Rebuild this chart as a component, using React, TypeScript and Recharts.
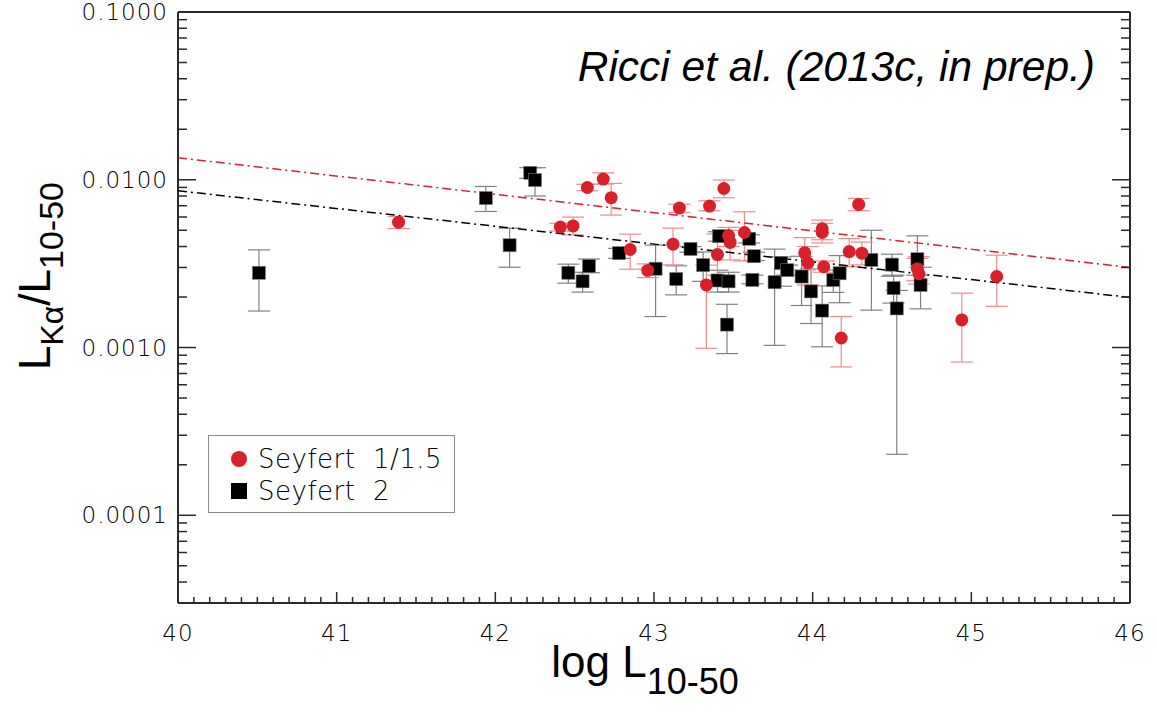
import React from "react";
import {
  ComposedChart,
  Scatter,
  XAxis,
  YAxis,
  ErrorBar,
  Legend,
} from "recharts";

// [log L, ratio, lower bound, upper bound]
const seyfert1: [number, number, number, number][] = [
  [41.39, 0.00559, 0.00512, 0.00605],
  [42.41, 0.00523, 0.00495, 0.0055],
  [42.49, 0.00531, 0.00469, 0.00599],
  [42.58, 0.00899, 0.0086, 0.0094],
  [42.68, 0.0101, 0.00943, 0.011],
  [42.73, 0.00782, 0.00616, 0.00951],
  [42.85, 0.00384, 0.00293, 0.00474],
  [42.96, 0.00288, 0.00261, 0.00315],
  [43.12, 0.00413, 0.00311, 0.00515],
  [43.16, 0.00678, 0.0064, 0.00715],
  [43.33, 0.00236, 0.00099, 0.0031],
  [43.35, 0.00697, 0.00654, 0.00749],
  [43.4, 0.00358, 0.0027, 0.00476],
  [43.44, 0.00887, 0.00781, 0.00996],
  [43.47, 0.00465, 0.004, 0.0052],
  [43.48, 0.00423, 0.00333, 0.005],
  [43.57, 0.00485, 0.00328, 0.00644],
  [43.95, 0.00367, 0.0029, 0.00452],
  [43.97, 0.00319, 0.00236, 0.004],
  [44.06, 0.0051, 0.00439, 0.00575],
  [44.06, 0.00485, 0.0042, 0.0055],
  [44.07, 0.00303, 0.00281, 0.00328],
  [44.18, 0.00114, 0.000766, 0.00153],
  [44.23, 0.00373, 0.00303, 0.00446],
  [44.29, 0.00713, 0.00654, 0.00774],
  [44.31, 0.00365, 0.00311, 0.00425],
  [44.66, 0.00295, 0.0025, 0.0034],
  [44.67, 0.00275, 0.00239, 0.00348],
  [44.94, 0.00146, 0.00082, 0.00211],
  [45.16, 0.00265, 0.00176, 0.00355],
];

const seyfert2: [number, number, number, number][] = [
  [40.51, 0.00279, 0.00165, 0.00382],
  [41.94, 0.00778, 0.00647, 0.00912],
  [42.09, 0.00407, 0.00301, 0.00515],
  [42.22, 0.011, 0.0102, 0.0118],
  [42.25, 0.00996, 0.008, 0.0118],
  [42.46, 0.00279, 0.00242, 0.00314],
  [42.55, 0.00248, 0.00214, 0.00281],
  [42.59, 0.00306, 0.00279, 0.00337],
  [42.78, 0.00365, 0.0034, 0.0039],
  [43.01, 0.00295, 0.00153, 0.00408],
  [43.14, 0.00256, 0.00206, 0.00307],
  [43.23, 0.00387, 0.0037, 0.004],
  [43.31, 0.0031, 0.00248, 0.00371],
  [43.4, 0.00251, 0.00214, 0.00289],
  [43.41, 0.00461, 0.0043, 0.0049],
  [43.46, 0.00137, 0.00092, 0.00181],
  [43.47, 0.00248, 0.00214, 0.00281],
  [43.6, 0.00445, 0.0042, 0.0047],
  [43.62, 0.00253, 0.0024, 0.0027],
  [43.63, 0.0035, 0.0033, 0.0037],
  [43.76, 0.00245, 0.00103, 0.00386],
  [43.8, 0.00319, 0.00232, 0.00347],
  [43.84, 0.00289, 0.0027, 0.0031],
  [43.93, 0.00265, 0.00178, 0.0035],
  [43.99, 0.00216, 0.00139, 0.00294],
  [44.06, 0.00166, 0.00101, 0.00233],
  [44.13, 0.00253, 0.00213, 0.0029],
  [44.17, 0.00277, 0.00185, 0.00353],
  [44.37, 0.00333, 0.00167, 0.005],
  [44.5, 0.00312, 0.00266, 0.0036],
  [44.51, 0.00226, 0.00184, 0.0027],
  [44.53, 0.00171, 0.000231, 0.00219],
  [44.66, 0.00336, 0.0027, 0.00463],
  [44.68, 0.00236, 0.0017, 0.00301],
];

// fitted relations (end points)
const fitSey1 = [
  { x: 40, y: 0.01353 },
  { x: 46, y: 0.003 },
];
const fitSey2 = [
  { x: 40, y: 0.0086 },
  { x: 46, y: 0.00199 },
];

const xMajorTicks = [40, 41, 42, 43, 44, 45, 46];
const yMajorTicks = [0.0001, 0.001, 0.01, 0.1];
const xDomain: [number, number] = [40, 46];
const yDomain: [number, number] = [3e-5, 0.1];

const RED = "#d8202b";
const AXIS = "#2a2a2a";
const TICK_FONT = "'DejaVu Sans', sans-serif";
const TITLE_FONT = "'Liberation Sans', Arial, sans-serif";

const toRows = (d: [number, number, number, number][]) =>
  d.map(([x, y, lo, hi]) => ({ x, y, err: [y - lo, hi - y] }));

const xTicks: number[] = [];
for (let i = 0; i <= 60; i++) xTicks.push(Math.round((40 + i * 0.1) * 10) / 10);

const yTicks: number[] = [...yMajorTicks];
for (let e = -5; e <= -2; e++) {
  for (let m = 2; m <= 9; m++) {
    const v = m * Math.pow(10, e);
    if (v > 3.05e-5 && v < 0.1) yTicks.push(v);
  }
}

const isMajorX = (v: number) => xMajorTicks.some((t) => Math.abs(t - v) < 1e-6);
const isMajorY = (v: number) => yMajorTicks.some((t) => Math.abs(t - v) / t < 1e-6);

const XTick = (props: any) => {
  const { x, y, payload, side } = props;
  const major = isMajorX(payload.value);
  const len = major ? 11 : 6;
  const dir = side === "bottom" ? -1 : 1;
  return (
    <g>
      <line x1={x} x2={x} y1={y} y2={y + dir * len} stroke={AXIS} strokeWidth={1.5} />
      {major && side === "bottom" && (
        <text
          x={x}
          y={y + 30}
          dy="0.35em"
          textAnchor="middle"
          fontFamily={TICK_FONT}
          fontWeight={200}
          fontSize={23}
          letterSpacing={1}
          fill="#000"
        >
          {payload.value}
        </text>
      )}
    </g>
  );
};

const YTick = (props: any) => {
  const { x, y, payload, side } = props;
  const major = isMajorY(payload.value);
  const len = major ? 18 : 9;
  const dir = side === "left" ? 1 : -1;
  return (
    <g>
      <line x1={x} x2={x + dir * len} y1={y} y2={y} stroke={AXIS} strokeWidth={1.5} />
      {major && side === "left" && (
        <text
          x={x - 10}
          y={y}
          dy="0.35em"
          textAnchor="end"
          fontFamily={TICK_FONT}
          fontWeight={200}
          fontSize={23}
          letterSpacing={1}
          fill="#000"
        >
          {payload.value.toFixed(4)}
        </text>
      )}
    </g>
  );
};

const XTitle = (props: any) => {
  const vb = props.viewBox;
  return (
    <text
      x={vb.x + vb.width / 2 - 9}
      y={vb.y + 74}
      textAnchor="middle"
      fontFamily={TITLE_FONT}
      fontSize={44}
      fill="#000"
    >
      log L
      <tspan fontSize={36} dy={17}>
        10-50
      </tspan>
    </text>
  );
};

const YTitle = () => {
  const cx = 50;
  const cy = 276;
  return (
    <text
      x={cx}
      y={cy}
      transform={`rotate(-90, ${cx}, ${cy})`}
      textAnchor="middle"
      fontFamily={TITLE_FONT}
      fontSize={44}
      fill="#000"
    >
      L
      <tspan fontSize={32} dy={13}>
        Kα
      </tspan>
      <tspan fontSize={44} dy={-13}>
        /L
      </tspan>
      <tspan fontSize={34} dy={13}>
        10-50
      </tspan>
    </text>
  );
};

const RedDot = (p: any) => <circle cx={p.cx} cy={p.cy} r={6.5} fill={RED} />;
const BlackSquare = (p: any) => (
  <rect x={p.cx - 6.5} y={p.cy - 6.5} width={13} height={13} fill="#000" stroke="#777" strokeWidth={0.6} />
);
const NoShape = () => <g />;

const LegendBox = () => (
  <div
    style={{
      width: 247,
      height: 78,
      border: "1px solid #8a8a8a",
      boxSizing: "border-box",
      background: "#fff",
      fontFamily: TICK_FONT,
      fontWeight: 200,
      fontSize: 26,
      color: "#000",
      paddingTop: 7,
    }}
  >
    <div style={{ display: "flex", alignItems: "center", height: 32 }}>
      <svg width={49} height={20}>
        <circle cx={30} cy={10} r={8} fill={RED} />
      </svg>
      <span style={{ letterSpacing: 0.5, whiteSpace: "pre" }}>Seyfert  1/1.5</span>
    </div>
    <div style={{ display: "flex", alignItems: "center", height: 32 }}>
      <svg width={49} height={20}>
        <rect x={22} y={2} width={16} height={16} fill="#000" />
      </svg>
      <span style={{ letterSpacing: 0.5, whiteSpace: "pre" }}>Seyfert  2</span>
    </div>
  </div>
);

export default function App() {
  return (
    <div style={{ position: "absolute", left: 0, top: 0, width: 1157, height: 728, background: "#fff" }}>
      <ComposedChart
        width={1157}
        height={728}
        margin={{ top: 11, right: 26, left: 78, bottom: 65 }}
      >
        <XAxis
          xAxisId="bottom"
          type="number"
          dataKey="x"
          domain={xDomain}
          allowDataOverflow
          ticks={xTicks}
          interval={0}
          tickSize={0}
          tickMargin={0}
          height={60}
          stroke={AXIS}
          axisLine={{ stroke: AXIS, strokeWidth: 2 }}
          tickLine={false}
          tick={(p: any) => <XTick {...p} side="bottom" />}
          label={{ content: (p: any) => <XTitle {...p} /> }}
        />
        <XAxis
          xAxisId="top"
          orientation="top"
          type="number"
          domain={xDomain}
          allowDataOverflow
          ticks={xTicks}
          interval={0}
          tickSize={0}
          tickMargin={0}
          height={1}
          axisLine={{ stroke: AXIS, strokeWidth: 2 }}
          tickLine={false}
          tick={(p: any) => <XTick {...p} side="top" />}
        />
        <YAxis
          yAxisId="left"
          type="number"
          dataKey="y"
          scale="log"
          domain={yDomain}
          allowDataOverflow
          ticks={yTicks}
          interval={0}
          tickSize={0}
          tickMargin={0}
          width={100}
          axisLine={{ stroke: AXIS, strokeWidth: 2 }}
          tickLine={false}
          tick={(p: any) => <YTick {...p} side="left" />}
          label={{ content: () => <YTitle /> }}
        />
        <YAxis
          yAxisId="right"
          orientation="right"
          type="number"
          scale="log"
          domain={yDomain}
          allowDataOverflow
          ticks={yTicks}
          interval={0}
          tickSize={0}
          tickMargin={0}
          width={1}
          axisLine={{ stroke: AXIS, strokeWidth: 2 }}
          tickLine={false}
          tick={(p: any) => <YTick {...p} side="right" />}
        />
        <Scatter
          xAxisId="bottom"
          yAxisId="left"
          data={fitSey1}
          shape={NoShape}
          line={{ stroke: RED, strokeWidth: 1.5, strokeDasharray: "9 4 2 4" }}
          lineType="joint"
          legendType="none"
          isAnimationActive={false}
        />
        <Scatter
          xAxisId="bottom"
          yAxisId="left"
          data={fitSey2}
          shape={NoShape}
          line={{ stroke: "#000", strokeWidth: 1.5, strokeDasharray: "9 4 2 4" }}
          lineType="joint"
          legendType="none"
          isAnimationActive={false}
        />
        <Scatter
          name="Seyfert 2"
          xAxisId="bottom"
          yAxisId="left"
          data={toRows(seyfert2)}
          shape={BlackSquare}
          isAnimationActive={false}
        >
          <ErrorBar dataKey="err" direction="y" width={11} stroke="#808080" strokeWidth={1.2} />
        </Scatter>
        <Scatter
          name="Seyfert 1/1.5"
          xAxisId="bottom"
          yAxisId="left"
          data={toRows(seyfert1)}
          shape={RedDot}
          isAnimationActive={false}
        >
          <ErrorBar dataKey="err" direction="y" width={11} stroke="#f08a8f" strokeWidth={1.2} />
        </Scatter>
        <Legend
          layout="horizontal"
          verticalAlign="middle"
          align="center"
          content={() => <LegendBox />}
          wrapperStyle={{ left: 208, top: 435, width: 247, height: 78 }}
        />
        <text
          x={1095}
          y={81}
          textAnchor="end"
          fontFamily={TITLE_FONT}
          fontStyle="italic"
          fontSize={42.5}
          fill="#000"
        >
          Ricci et al. (2013c, in prep.)
        </text>
      </ComposedChart>
    </div>
  );
}
